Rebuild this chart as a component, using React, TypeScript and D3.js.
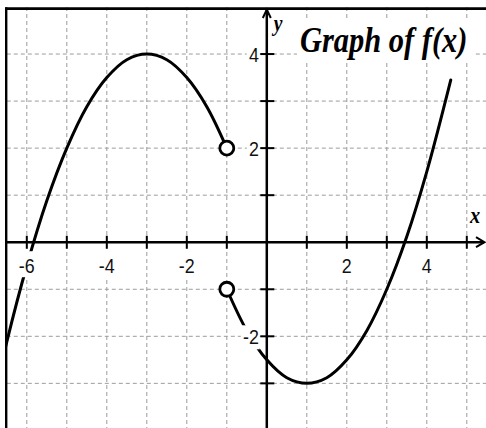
import React from 'react';
import * as d3 from 'd3';

const W = 486;
const H = 428;

// grid / tick positions
const xGrid = [-6, -5, -4, -3, -2, -1, 1, 2, 3, 4, 5];
const yGrid = [-3, -2, -1, 1, 2, 3, 4];
const xTickLabels = [-6, -4, -2, 2, 4];
const yTickLabels = [4, 2, -2];

// left branch of f, open end at (-1, 2)
const leftX = [-6.6, -6.5, -6, -5.5, -5, -4.5, -4, -3.5, -3, -2.5, -2, -1.5, -1];
const leftY = [-2.5, -2.12, -0.5, 0.88, 2.0, 2.88, 3.5, 3.88, 4.0, 3.88, 3.5, 2.88, 2.0];

// right branch of f, open start at (-1, -1)
const rightX = [-1, -0.5, 0, 0.5, 1, 1.5, 2, 2.5, 3, 3.5, 4, 4.6];
const rightY = [-1.0, -1.88, -2.5, -2.88, -3.0, -2.88, -2.5, -1.88, -1.0, 0.12, 1.5, 3.45];

const openPoints = [
  { x: -1, y: 2 },
  { x: -1, y: -1 },
];

const title = 'Graph of f(x)';

export default function App() {
  const x = d3.scaleLinear().domain([-6.5, 5.5]).range([6.8, 486.8]);
  const y = d3.scaleLinear().domain([5, -4]).range([7, 430.4]);

  const line = d3
    .line<[number, number]>()
    .x(d => x(d[0]))
    .y(d => y(d[1]))
    .curve(d3.curveCatmullRom.alpha(0.5));

  const leftPath = line(leftX.map((v, i) => [v, leftY[i]]) as [number, number][]);
  const rightPath = line(rightX.map((v, i) => [v, rightY[i]]) as [number, number][]);

  const x0 = x(0);
  const y0 = y(0);
  const left = x(-6.5);
  const top = y(5);
  const serif = '"Times New Roman", "Liberation Serif", serif';
  const sans = 'Arial, "Liberation Sans", sans-serif';

  return (
    <svg
      width={W}
      height={H}
      style={{ position: 'absolute', left: 0, top: 0, background: '#fff' }}
    >
      <defs>
        <clipPath id="plot">
          <rect x={left} y={top} width={W - left} height={H - top} />
        </clipPath>
      </defs>

      {/* grid */}
      <g stroke="#9c9c9c" strokeWidth={1} strokeDasharray="4,3">
        {xGrid.map(v => (
          <line key={'gx' + v} x1={x(v)} x2={x(v)} y1={top} y2={H} />
        ))}
        {yGrid.map(v => (
          <line key={'gy' + v} x1={left} x2={W} y1={y(v)} y2={y(v)} />
        ))}
      </g>

      {/* curves */}
      <g clipPath="url(#plot)" fill="none" stroke="#000" strokeWidth={3} strokeLinecap="round">
        <path d={leftPath || ''} />
        <path d={rightPath || ''} />
      </g>

      {/* title */}
      <rect x={297} y={19} width={177} height={43} fill="#fff" />
      <text
        transform="translate(300,52) scale(0.87,1)"
        fontFamily={serif}
        fontWeight="bold"
        fontStyle="italic"
        fontSize={35}
        fill="#000"
      >
        {title}
      </text>

      {/* axes */}
      <g stroke="#000" strokeWidth={2.5} fill="none">
        <line x1={left} x2={W - 2} y1={y0} y2={y0} />
        <path d={`M${W - 10},${y0 - 5}L${W - 1.5},${y0}L${W - 10},${y0 + 5}`} strokeWidth={2} />
        <line x1={x0} x2={x0} y1={top + 3} y2={H} />
        <path d={`M${x0 - 4},${top + 11}L${x0},${top + 2.5}L${x0 + 4},${top + 11}`} strokeWidth={2} />
      </g>
      <g stroke="#000" strokeWidth={2}>
        {xGrid.map(v => (
          <line key={'tx' + v} x1={x(v)} x2={x(v)} y1={y0 - 6.5} y2={y0 + 6.5} />
        ))}
        {yGrid.map(v => (
          <line key={'ty' + v} x1={x0 - 6.5} x2={x0 + 7.5} y1={y(v)} y2={y(v)} />
        ))}
      </g>

      {/* tick labels */}
      {xTickLabels.map(v => {
        const s = String(v);
        const w = s.length > 1 ? 20 : 13;
        return (
          <g key={'lx' + v}>
            <rect x={x(v) - w / 2} y={y0 + 9} width={w} height={26} fill="#fff" />
            <text
              transform={`translate(${x(v)},${y0 + 31}) scale(0.85,1)`}
              textAnchor="middle"
              fontFamily={sans}
              fontSize={21}
              fill="#111"
            >
              {s}
            </text>
          </g>
        );
      })}
      {yTickLabels.map(v => {
        const s = String(v);
        const w = s.length > 1 ? 19 : 13;
        return (
          <g key={'ly' + v}>
            <rect x={x0 - 7 - w} y={y(v) - 11} width={w} height={24} fill="#fff" />
            <text
              transform={`translate(${x0 - 8},${y(v) + 8}) scale(0.85,1)`}
              textAnchor="end"
              fontFamily={sans}
              fontSize={21}
              fill="#111"
            >
              {s}
            </text>
          </g>
        );
      })}

      {/* axis names */}
      <text
        transform={`translate(${x0 + 7},${top + 24}) scale(0.85,1)`}
        fontFamily={serif}
        fontWeight="bold"
        fontStyle="italic"
        fontSize={23}
        fill="#000"
      >
        y
      </text>
      <text
        transform={`translate(${W - 16},${y0 - 19}) scale(0.85,1)`}
        fontFamily={serif}
        fontWeight="bold"
        fontStyle="italic"
        fontSize={24}
        fill="#000"
      >
        x
      </text>

      {/* open circles */}
      {openPoints.map((p, i) => (
        <circle key={i} cx={x(p.x)} cy={y(p.y)} r={7} fill="#fff" stroke="#000" strokeWidth={2.8} />
      ))}

      {/* frame */}
      <g stroke="#000" fill="none">
        <line x1={left - 1.5} x2={W} y1={top + 1.7} y2={top + 1.7} strokeWidth={2.7} />
        <line x1={left - 0.6} x2={left - 0.6} y1={top + 0.3} y2={H} strokeWidth={2.4} />
      </g>
    </svg>
  );
}
